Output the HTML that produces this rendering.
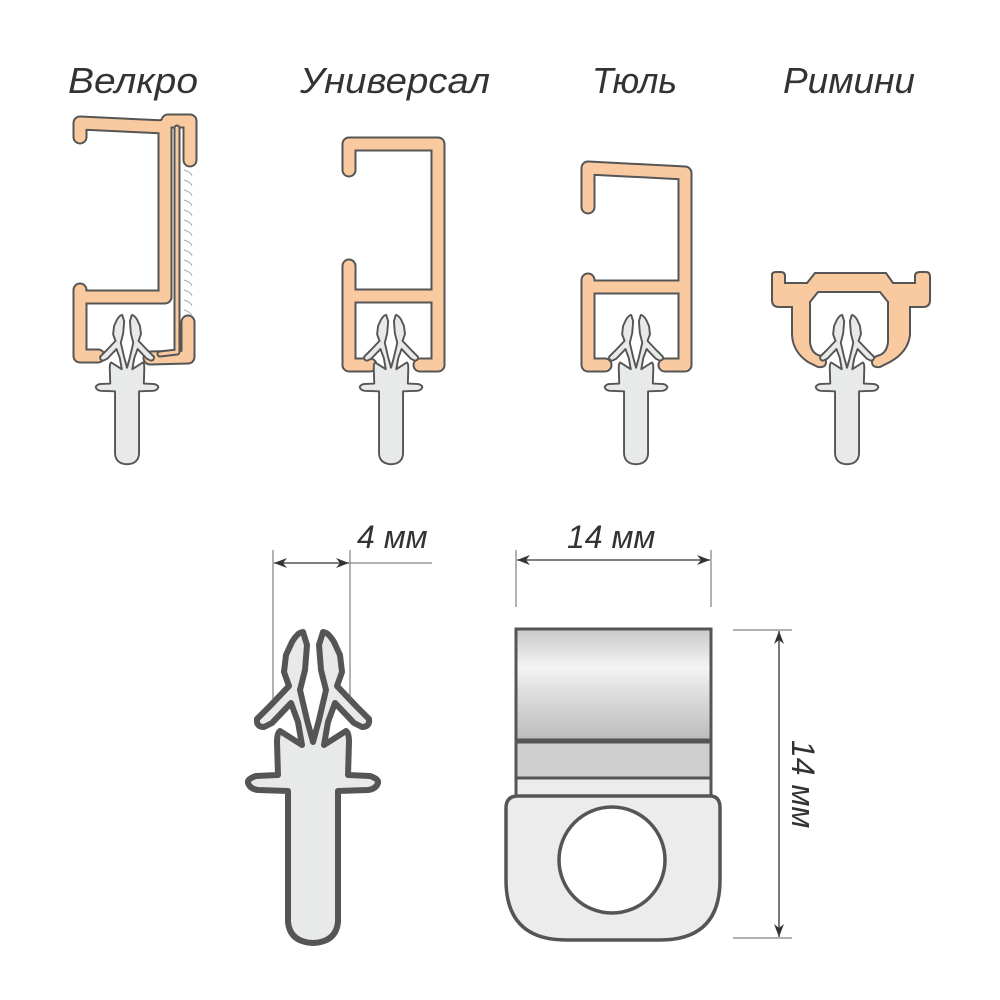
<!DOCTYPE html>
<html><head><meta charset="utf-8"><style>
html,body{margin:0;padding:0;background:#fff}
svg{display:block}
text{font-family:"Liberation Sans",sans-serif;font-style:italic;fill:#333}
</style></head><body>
<svg width="1000" height="1000" viewBox="0 0 1000 1000" xmlns="http://www.w3.org/2000/svg">
<defs>
<path id="hook" d="M313,742 L307,720 L300,690 L305,670 L307,645 L303,632 Q298,632 292,642 L286,655 L284,672 L289,686 L270,706 L257,719 Q256,727 264,727 L272,723 L291,703 L298,722 L302,745 L280,731 Q277,733 277,742 L278,775 L256,776 Q247,779 248,783 Q250,789 258,790 L288,791 L288,922 Q290,942 313,943 Q336,942 338,922 L338,791 L368,790 Q376,789 378,783 Q379,779 370,776 L348,775 L349,742 Q349,733 346,731 L324,745 L328,722 L335,703 L354,723 L362,727 Q370,727 369,719 L356,706 L337,686 L342,672 L340,655 L334,642 Q328,632 323,632 L319,645 L321,670 L326,690 L319,720 Z"/>
<linearGradient id="gl" x1="0" y1="0" x2="0" y2="1">
<stop offset="0" stop-color="#c9c9c9"/><stop offset="0.35" stop-color="#f4f4f4"/><stop offset="0.55" stop-color="#e0e0e0"/><stop offset="1" stop-color="#bcbcbc"/></linearGradient>
<marker id="ar" markerWidth="14" markerHeight="10" refX="13" refY="5" orient="auto" markerUnits="userSpaceOnUse"><path d="M0,0 L13,5 L0,10 L4,5 Z" fill="#333"/></marker>
</defs>

<text x="68" y="93" font-size="36" textLength="130" lengthAdjust="spacingAndGlyphs">Велкро</text>
<text x="300" y="93" font-size="36" textLength="190" lengthAdjust="spacingAndGlyphs">Универсал</text>
<text x="592" y="93" font-size="36" textLength="85" lengthAdjust="spacingAndGlyphs">Тюль</text>
<text x="783" y="93" font-size="36" textLength="132" lengthAdjust="spacingAndGlyphs">Римини</text>

<g fill="none" stroke-linejoin="round" stroke-linecap="round">
 <g stroke="#555" stroke-width="15">
  <path d="M80,137 L80,123 L165,127 M165,125 L165,296 M80,290 L80,356 L98,356 M80,297 L165,297 M168,121 L190,121 L190,160 M188,322 L188,357 L150,358"/>
  <path d="M349,170 L349,144 L438,144 L438,365 L420,365 M349,266 L349,365 L370,365 M349,296 L438,296"/>
  <path d="M588,207 L588,168 L685,173 L685,365 L665,365 M588,280 L588,365 L605,365 M588,287 L685,287"/>
 </g>
 <g stroke="#f9c9a0" stroke-width="11">
  <path d="M80,137 L80,123 L165,127 M165,125 L165,296 M80,290 L80,356 L98,356 M80,297 L165,297 M168,121 L190,121 L190,160 M188,322 L188,357 L150,358"/>
  <path d="M349,170 L349,144 L438,144 L438,365 L420,365 M349,266 L349,365 L370,365 M349,296 L438,296"/>
  <path d="M588,207 L588,168 L685,173 L685,365 L665,365 M588,280 L588,365 L605,365 M588,287 L685,287"/>
 </g>
 <path d="M177,128 L177,352 L160,354" stroke="#555" stroke-width="7"/>
 <path d="M177,128 L177,352 L160,354" stroke="#f9c9a0" stroke-width="3"/>
</g>
<g fill="none" stroke="#aaa" stroke-width="1">
 <path d="M184,170 q7,2 8,6 M184,180 q7,2 8,6 M184,190 q7,2 8,6 M184,200 q7,2 8,6 M184,210 q7,2 8,6 M184,220 q7,2 8,6 M184,230 q7,2 8,6 M184,240 q7,2 8,6 M184,250 q7,2 8,6 M184,260 q7,2 8,6 M184,270 q7,2 8,6 M184,280 q7,2 8,6 M184,290 q7,2 8,6 M184,300 q7,2 8,6 M184,310 q7,2 8,6"/>
</g>
<path d="M772,275 Q772,272 776,272 L781,272 Q785,272 785,276 L785,283 L807,283 L815,273 L886,273 L893,283 L915,283 L915,276 Q915,272 920,272 L926,272 Q930,272 930,277 L930,300 Q930,307 923,307 L910,307 L910,335 Q908,352 890,362 L880,367 Q872,368 872,362 Q872,357 880,355 Q887,352 888,342 L888,302 L880,292 L818,292 L810,302 L810,342 Q811,352 818,355 Q826,357 826,362 Q826,368 818,367 L808,362 Q793,352 792,335 L792,307 L779,307 Q772,307 772,300 Z" fill="#f9c9a0" stroke="#555" stroke-width="2"/>

<g fill="#e8eaea" stroke="#555" stroke-width="4" stroke-linejoin="round">
 <use href="#hook" transform="translate(-23.2,11.6) scale(0.48)"/>
 <use href="#hook" transform="translate(240.8,11.6) scale(0.48)"/>
 <use href="#hook" transform="translate(485.8,11.6) scale(0.48)"/>
 <use href="#hook" transform="translate(696.8,11.6) scale(0.48)"/>
</g>

<use href="#hook" fill="#e8eaea" stroke="#555" stroke-width="6" stroke-linejoin="round"/>

<g stroke="#666" stroke-width="1" fill="none">
 <line x1="273" y1="550" x2="273" y2="700"/>
 <line x1="350" y1="550" x2="350" y2="700"/>
 <line x1="350" y1="563" x2="432" y2="563"/>
 <line x1="516" y1="550" x2="516" y2="607"/>
 <line x1="711" y1="550" x2="711" y2="607"/>
 <line x1="733" y1="630" x2="792" y2="630"/>
 <line x1="733" y1="938" x2="792" y2="938"/>
</g>
<g stroke="#333" stroke-width="1.3">
 <line x1="311" y1="563" x2="274" y2="563" marker-end="url(#ar)"/>
 <line x1="311" y1="563" x2="349" y2="563" marker-end="url(#ar)"/>
 <line x1="613" y1="560" x2="517" y2="560" marker-end="url(#ar)"/>
 <line x1="613" y1="560" x2="710" y2="560" marker-end="url(#ar)"/>
 <line x1="779" y1="784" x2="779" y2="631" marker-end="url(#ar)"/>
 <line x1="779" y1="784" x2="779" y2="937" marker-end="url(#ar)"/>
</g>
<text x="357" y="548" font-size="32">4 мм</text>
<text x="567" y="548" font-size="32">14 мм</text>
<text font-size="32" transform="translate(792,740) rotate(90)">14 мм</text>

<rect x="516" y="629" width="195" height="111" fill="url(#gl)" stroke="#555" stroke-width="3"/>
<rect x="516" y="742" width="195" height="36" fill="#cfcfcf" stroke="#555" stroke-width="3"/>
<rect x="516" y="778" width="195" height="18" fill="#ececec" stroke="#555" stroke-width="3"/>
<path d="M518,796 L710,796 Q720,796 720,808 L720,880 Q720,940 660,940 L566,940 Q506,940 506,880 L506,808 Q506,796 518,796 Z" fill="#ececec" stroke="#555" stroke-width="3.5"/>
<circle cx="612" cy="860" r="53" fill="#fff" stroke="#555" stroke-width="3.5"/>
</svg>
</body></html>
